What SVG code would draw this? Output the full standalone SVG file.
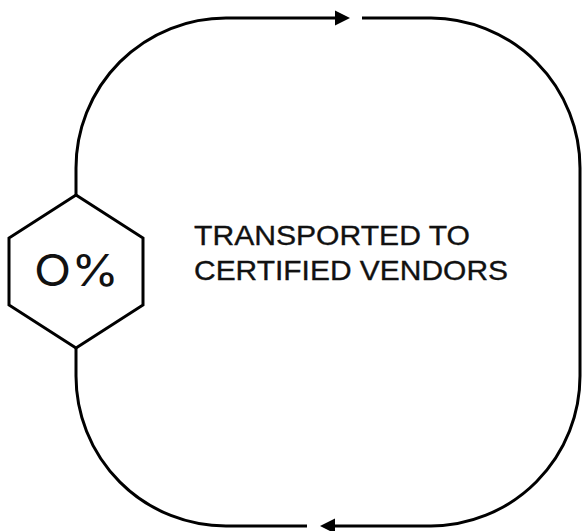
<svg xmlns="http://www.w3.org/2000/svg" width="582" height="531" viewBox="0 0 582 531">
<style>
.ln{fill:none;stroke:#000;stroke-width:3}
.hex{fill:#fff;stroke:#000;stroke-width:3;stroke-linejoin:miter}
.t{font-family:"Liberation Sans",Arial,sans-serif;fill:#111;stroke:#111;stroke-width:0.35}
.p{font-family:Inter,"Liberation Sans",sans-serif;fill:#111}
</style>
<defs>
<marker id="ah" viewBox="0 0 10 10" refX="0" refY="5" markerWidth="15" markerHeight="16" markerUnits="userSpaceOnUse" orient="auto">
<path d="M0,0 L10,5 L0,10 Z" fill="#000"/>
</marker>
</defs>
<rect width="582" height="531" fill="#fff"/>
<g id="connectors">
<path class="ln" d="M76,195 V168 A150,150 0 0 1 226,18 H335" marker-end="url(#ah)"/>
<path class="ln" d="M362,18 H431 A150,150 0 0 1 580,168 V376 A150,150 0 0 1 431,526 H335" marker-end="url(#ah)"/>
<path class="ln" d="M307,526 H226 A150,150 0 0 1 76,376 V348"/>
</g>
<g id="hexagon">
<polygon class="hex" points="76,195 143,238 143,305 76,348 9,305 9,238"/>
<text class="p" x="34" y="286" font-size="44" textLength="85" lengthAdjust="spacingAndGlyphs">O%</text>
</g>
<g id="label">
<text class="t" x="194" y="245" font-size="28" textLength="276" lengthAdjust="spacingAndGlyphs">TRANSPORTED TO</text>
<text class="t" x="194" y="280" font-size="28" textLength="314" lengthAdjust="spacingAndGlyphs">CERTIFIED VENDORS</text>
</g>
</svg>
